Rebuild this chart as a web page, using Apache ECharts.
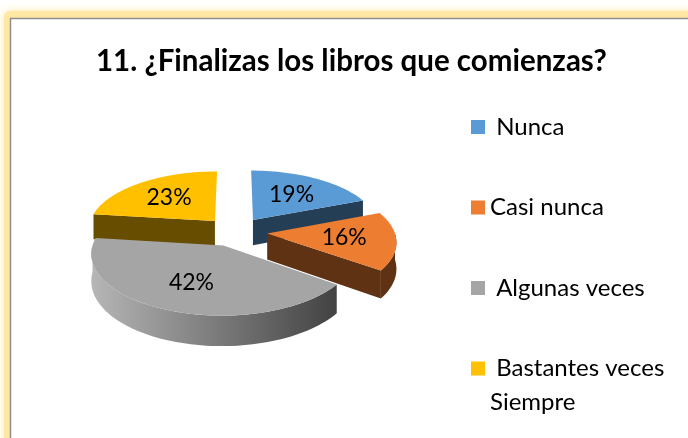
<!DOCTYPE html>
<html>
<head>
<meta charset="utf-8">
<script src="https://cdn.jsdelivr.net/npm/echarts@6/dist/echarts.min.js"></script>
<style>
  html, body { margin: 0; padding: 0; background: #fff; }
  #PieChart { width: 688px; height: 438px; }
</style>
</head>
<body>
<div id="PieChart"></div>
<script>
// data
const titleText = "11. ¿Finalizas los libros que comienzas?";
const categories = [" Nunca", "Casi nunca", " Algunas veces", " Bastantes veces Siempre"];
const values = [19, 16, 42, 23];
const colors = ["#5b9bd5", "#ed7d31", "#a5a5a5", "#ffc000"];

// 3d pie look (excel style, exploded, slight perspective)
const CX = 235.5, CY = 231.7, RX = 127.3, RY = 58, PERSP = 0.12, DEPTH = 26, EXPLODE = 0.25;
const FONT = "Lato, 'Open Sans', sans-serif";

const total = values.reduce((a, b) => a + b, 0);

function pt(u, v, z) {
  const w = 1 + PERSP * v;
  return [CX + (RX * u) / w, CY - (RY * v) / w + z / w];
}

function shade(hex, f) {
  const n = parseInt(hex.slice(1), 16);
  const c = [(n >> 16) & 255, (n >> 8) & 255, n & 255].map((x) => Math.max(0, Math.min(255, Math.round(x * f))));
  return "rgb(" + c.join(",") + ")";
}

function sliceAngles(i) {
  let before = 0;
  for (let k = 0; k < i; k++) before += values[k];
  const a0 = (before / total) * Math.PI * 2;
  const a1 = ((before + values[i]) / total) * Math.PI * 2;
  return [a0, a1];
}

function arc(ou, ov, from, to, z) {
  const pts = [];
  const steps = Math.max(6, Math.ceil(Math.abs(to - from) / (Math.PI / 90)));
  for (let s = 0; s <= steps; s++) {
    const t = from + ((to - from) * s) / steps;
    pts.push(pt(ou + Math.sin(t), ov + Math.cos(t), z));
  }
  return pts;
}

// side wall brightness by angle (light on the left, dark on the right)
function wallLight(t) {
  const deg = (t * 180) / Math.PI;
  return deg <= 126 ? 0.4 : 0.4 + (0.7 * (deg - 126)) / 144;
}

function renderSlice(i) {
  return function (params, api) {
    const val = api.value(0);
    const [a0, a1] = sliceAngles(i);
    const m = (a0 + a1) / 2;
    const ou = EXPLODE * Math.sin(m), ov = EXPLODE * Math.cos(m);
    const base = colors[i];
    const children = [];
    const dark = shade(base, 0.4);

    // cut faces
    if (Math.sin(a0) < -0.01) {
      children.push({
        type: "polygon",
        shape: { points: [pt(ou, ov, 0), pt(ou + Math.sin(a0), ov + Math.cos(a0), 0), pt(ou + Math.sin(a0), ov + Math.cos(a0), DEPTH), pt(ou, ov, DEPTH)] },
        style: { fill: dark },
      });
    }
    if (Math.sin(a1) > 0.01) {
      children.push({
        type: "polygon",
        shape: { points: [pt(ou, ov, 0), pt(ou + Math.sin(a1), ov + Math.cos(a1), 0), pt(ou + Math.sin(a1), ov + Math.cos(a1), DEPTH), pt(ou, ov, DEPTH)] },
        style: { fill: dark },
      });
    }
    // outer wall (front half only)
    const lo = Math.max(a0, Math.PI / 2), hi = Math.min(a1, (Math.PI * 3) / 2);
    if (hi > lo) {
      const top = arc(ou, ov, lo, hi, 0);
      const bottom = arc(ou, ov, hi, lo, DEPTH);
      children.push({
        type: "polygon",
        shape: { points: top.concat(bottom) },
        style: {
          fill: new echarts.graphic.LinearGradient(0, 0, 1, 0, [
            { offset: 0, color: shade(base, wallLight(hi)) },
            { offset: 1, color: shade(base, wallLight(lo)) },
          ]),
        },
      });
    }
    // top face
    children.push({
      type: "polygon",
      shape: { points: [pt(ou, ov, 0)].concat(arc(ou, ov, a0, a1, 0)) },
      style: { fill: base },
    });
    // percent label
    const lp = pt(ou + 0.6 * Math.sin(m), ov + 0.6 * Math.cos(m), 0);
    children.push({
      type: "text",
      x: lp[0],
      y: lp[1],
      z2: 100,
      style: {
        text: Math.round((val / total) * 100) + "%",
        fill: "#000",
        font: "23px " + FONT,
        align: "center",
        verticalAlign: "middle",
      },
    });
    return { type: "group", children };
  };
}

// back slices first
const order = values.map((v, i) => i).sort((p, q) => {
  const mp = sliceAngles(p), mq = sliceAngles(q);
  return Math.cos((mq[0] + mq[1]) / 2) - Math.cos((mp[0] + mp[1]) / 2);
});

// every legend entry gets 3 lines so the wrapped one keeps its first line next to the icon
function legendText(name) {
  const wrapped = name.replace(" Siempre", "\nSiempre");
  return wrapped === name ? "\n" + name + "\n" : "\n" + wrapped;
}

const chart = echarts.init(document.getElementById("PieChart"));
const options = {
  animation: false,
  graphic: [
    {
      type: "rect",
      z: -20,
      shape: { x: 4, y: 11, width: 720, height: 460, r: 6 },
      style: { fill: "#ffe8a3", shadowBlur: 8, shadowColor: "#ffe8a3" },
    },
    {
      type: "rect",
      z: -10,
      shape: { x: 10.5, y: 18.5, width: 720, height: 460 },
      style: { fill: "#fff", stroke: "#8e8e8e", lineWidth: 1.5 },
    },
  ],
  title: {
    text: titleText,
    left: 96,
    top: 46,
    padding: 0,
    textStyle: { fontFamily: FONT, fontWeight: "bold", fontSize: 29.5, color: "#000" },
  },
  legend: {
    orient: "vertical",
    left: 471,
    top: 76,
    height: 600,
    padding: 0,
    icon: "rect",
    itemWidth: 14,
    itemHeight: 14,
    itemGap: -21.5,
    textStyle: { fontFamily: FONT, fontSize: 24, color: "#000", lineHeight: 34 },
    formatter: legendText,
    data: categories,
  },
  series: categories.map((name, i) => ({
    name,
    type: "custom",
    coordinateSystem: "none",
    z: 2 + order.indexOf(i),
    itemStyle: { color: colors[i] },
    renderItem: renderSlice(i),
    data: [[values[i]]],
  })),
};
chart.setOption(options);
</script>
</body>
</html>
